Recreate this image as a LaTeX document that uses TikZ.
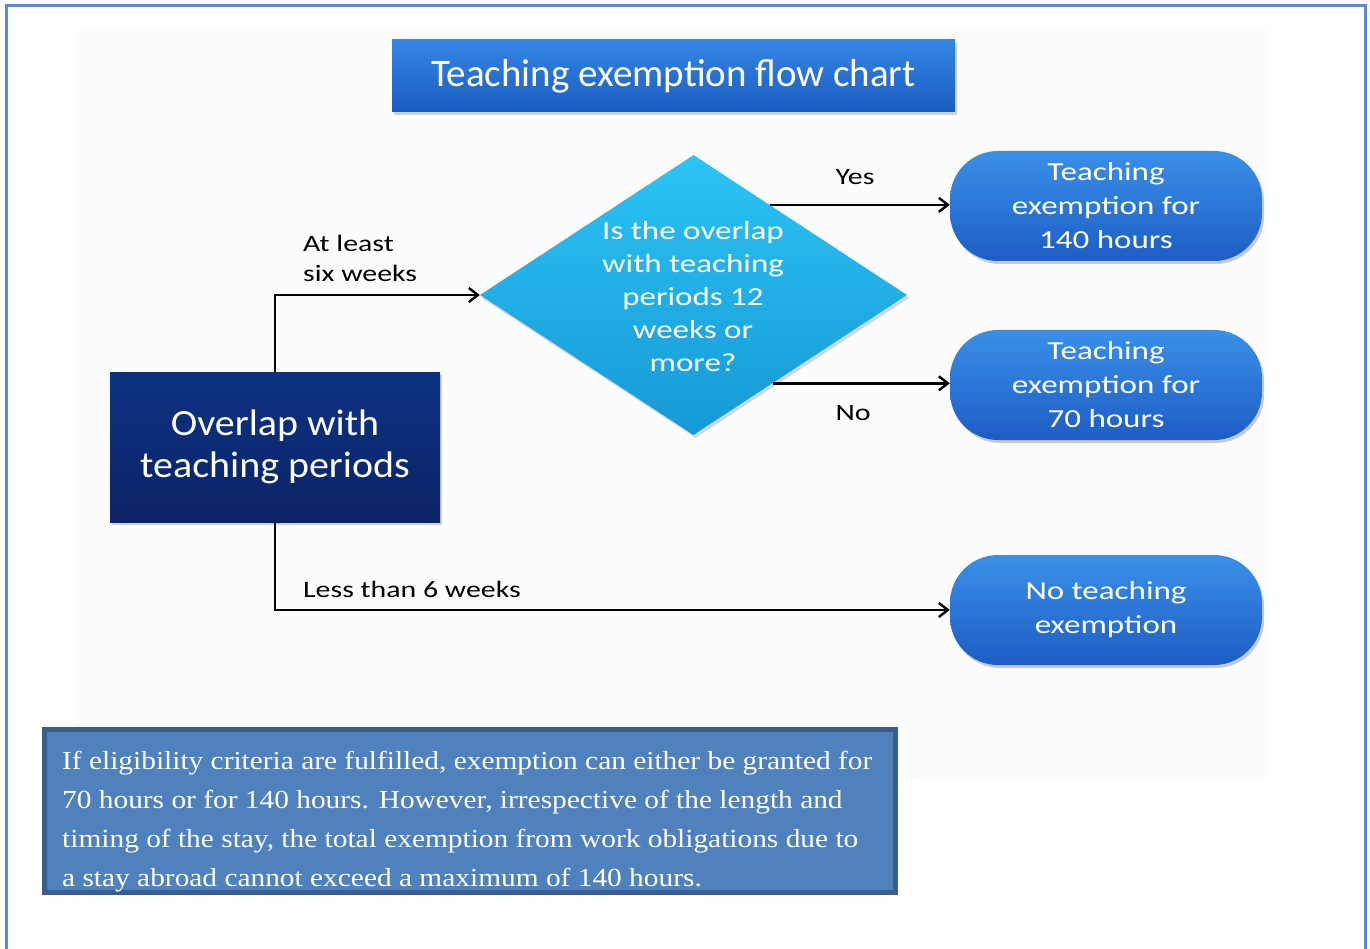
\documentclass[tikz,border=0pt]{standalone}
\usepackage{fontspec}
\setmainfont{Carlito}
\newfontfamily\titlefont{Carlito}
\newfontfamily\mainfont{Carlito}[FakeStretch=1.08]
\newfontfamily\widefont{Carlito}[FakeStretch=1.27]
\newfontfamily\lblfont{Carlito}[FakeStretch=1.27]
\newfontfamily\serifbody{Liberation Serif}[FakeStretch=1.13]
\usetikzlibrary{shapes.geometric,shadows,arrows.meta,calc}
\definecolor{frameblue}{HTML}{5B8BD0}
\definecolor{titletop}{HTML}{3486E4}
\definecolor{titlebot}{HTML}{1A5CC0}
\definecolor{navytop}{HTML}{0E3282}
\definecolor{navybot}{HTML}{0A2466}
\definecolor{cyantop}{HTML}{2CC4F4}
\definecolor{cyanbot}{HTML}{1699D6}
\definecolor{pilltop}{HTML}{3A90E8}
\definecolor{pillbot}{HTML}{1D5DC4}
\definecolor{notefill}{HTML}{4F81BD}
\definecolor{noteline}{HTML}{3A5F8E}
\tikzset{
  px/.style={x=1pt,y=-1pt},
  titlebox/.style={rectangle, top color=titletop, bottom color=titlebot, draw=none,
    minimum width=563pt, minimum height=72pt, text=white,
    font=\titlefont\fontsize{39}{44}\selectfont, drop shadow={opacity=0.35,shadow xshift=2pt,shadow yshift=-3pt}},
  mainbox/.style={rectangle, top color=navytop, bottom color=navybot, draw=none,
    minimum width=330pt, minimum height=150pt, text=white, align=center,
    font=\mainfont\fontsize{37}{42}\selectfont, drop shadow={opacity=0.35,shadow xshift=2pt,shadow yshift=-3pt}},
  decision/.style={diamond, top color=cyantop, bottom color=cyanbot, draw=none,
    minimum width=427pt, minimum height=280pt, inner sep=0pt, aspect=1.525,
    drop shadow={opacity=0.3,shadow xshift=2pt,shadow yshift=-3pt}},
  decisiontext/.style={text=white, align=center, font=\widefont\fontsize{26}{33}\selectfont},
  pill/.style={rectangle, rounded corners=48pt, top color=pilltop, bottom color=pillbot,
    draw=none, minimum width=312pt, minimum height=110pt, text=white, align=center,
    font=\widefont\fontsize{26}{34}\selectfont, drop shadow={opacity=0.4,shadow xshift=2pt,shadow yshift=-3pt}},
  lbl/.style={font=\lblfont\fontsize{23.5}{30}\selectfont, text=black, inner sep=0pt},
  conn/.style={draw=black, line width=2.4pt, -{Straight Barb[length=9pt,width=14pt,line width=2.4pt]}},
  note/.style={rectangle, fill=notefill, draw=noteline, line width=5pt, minimum width=851pt,
    minimum height=163pt, drop shadow={opacity=0.3,shadow xshift=2pt,shadow yshift=-2pt}},
  notetext/.style={text=white, align=left, inner sep=0pt, font=\serifbody\fontsize{26}{39}\selectfont}
}
\begin{document}
\begin{tikzpicture}[px]
\useasboundingbox (0,0) rectangle (1370,949);
\fill[white] (0,0) rectangle (1370,949);
\fill[black!1] (77,28) rectangle (1268,778);
\draw[frameblue, line width=3pt] (6,951) -- (6,6) -- (1365,6) -- (1365,951);

\node[titlebox] (title) at (673.5,76) {Teaching exemption flow chart};

\node[decision] (dia) at (693.5,295) {};
\node[decisiontext] (diatext) at (693,297) {Is the overlap\\with teaching\\periods 12\\weeks or\\more?};

\node[mainbox] (main) at (275,447) {Overlap with\\teaching periods};

\node[pill] (yesbox) at (1106,206) {Teaching\\exemption for\\140 hours};
\node[pill] (nobox) at (1106,385) {Teaching\\exemption for\\70 hours};
\node[pill] (nonebox) at (1106,610) {No teaching\\exemption};

\coordinate (yesstart) at ($(dia.north)!0.357!(dia.east)$);
\coordinate (nostart) at ($(dia.east)!0.63!(dia.south)$);

\draw[conn] (main.north) |- (dia.west);
\draw[conn] (main.south) |- (nonebox.west);
\draw[conn] (yesstart) -- (yesstart -| yesbox.west);
\draw[conn] (nostart) -- (nostart -| nobox.west);

\node[lbl, anchor=west, align=left] (atleast) at (303,258) {At least\\six weeks};
\node[lbl] (yes) at (855,177) {Yes};
\node[lbl] (no) at (853,413) {No};
\node[lbl, anchor=west] (less) at (303,589) {Less than 6 weeks};

\node[note] (notebox) at (470,811) {};
\node[notetext, anchor=north west] (notetxt) at (62,751) {If eligibility criteria are fulfilled, exemption can either be granted for\\70 hours or for 140 hours. However, irrespective of the length and\\timing of the stay, the total exemption from work obligations due to\\a stay abroad cannot exceed a maximum of 140 hours.};
\end{tikzpicture}
\end{document}
